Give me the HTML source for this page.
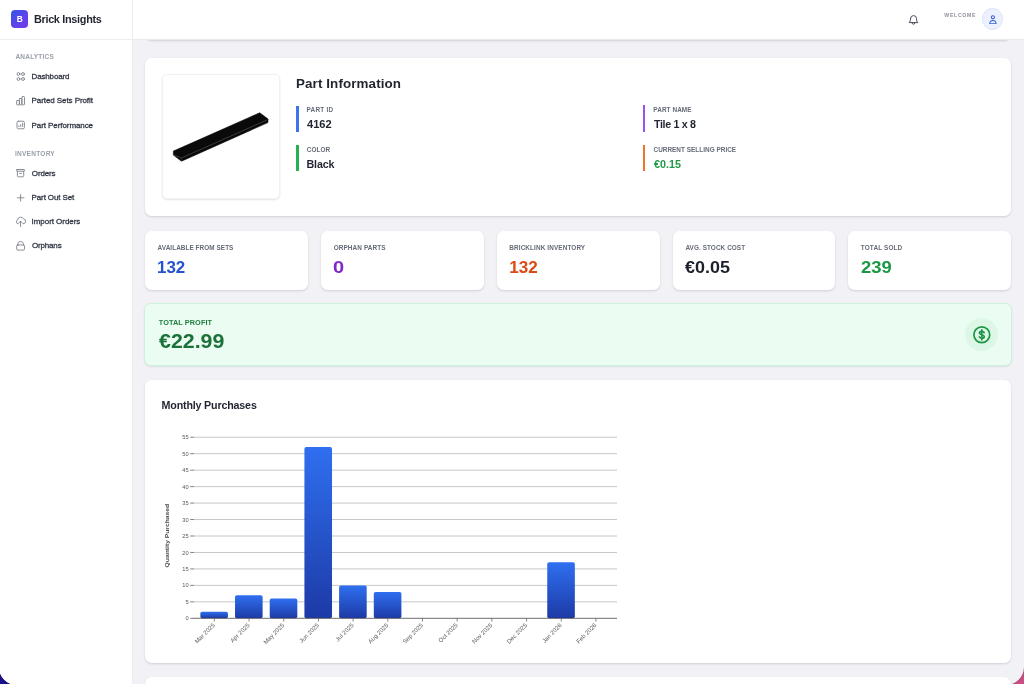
<!DOCTYPE html>
<html lang="en">
<head>
<meta charset="utf-8">
<title>Brick Insights - Part Performance</title>
<style>
*{box-sizing:border-box;margin:0;padding:0}
html,body{width:1024px;height:684px;overflow:hidden}
body{font-family:"Liberation Sans",sans-serif;background:linear-gradient(90deg,#1c1088 0%,#6a2a9a 50%,#cd4d84 100%);color:#1f2430;position:relative}
#win{will-change:transform;position:absolute;left:-1.1px;top:0;width:1025.1px;height:684.5px;background:#f2f2f6;border-radius:0 0 18px 18px;overflow:hidden;box-shadow:0 0 1.5px rgba(0,0,10,.5)}
#in{position:absolute;left:1.1px;top:0;width:1024px;height:684.5px}
.t{position:absolute;white-space:nowrap;transform-origin:0 50%}
#side{position:absolute;left:0;top:0;width:132.5px;height:684px;background:#fff;border-right:1px solid #ececf1}
#brand{position:absolute;left:0;top:0;width:132px;height:39.5px;border-bottom:1px solid #efeff3}
#logo{position:absolute;left:11px;top:10.4px;width:17px;height:17.5px;border-radius:4px;background:linear-gradient(135deg,#3654e6 0%,#7a36ec 100%)}
.logob{font-size:8.4px;line-height:10px;font-weight:700;color:#fff}
.bname{font-size:10.9px;line-height:14px;font-weight:700;color:#1f2430}
.sec{font-size:6.5px;line-height:8px;font-weight:700;color:#9a9fab}
.nav{font-size:8px;line-height:10px;color:#2f3542;-webkit-text-stroke:.28px #2f3542}
.ico{position:absolute;fill:none;stroke:#767b88;stroke-width:1.9;stroke-linecap:round;stroke-linejoin:round}
#head{position:absolute;left:133px;top:0;width:891px;height:39.5px;background:#fff;border-bottom:1px solid #e9e9ee;z-index:5}
.welcome{font-size:5.2px;line-height:6px;font-weight:700;color:#8c909b}
#avatar{position:absolute;left:848.8px;top:8.3px;width:21.4px;height:21.8px;border-radius:50%;background:#ecf1fd;border:1px solid #dde5fb}
.card{position:absolute;background:#fff;border-radius:6.5px;box-shadow:0 1px 2px rgba(20,20,50,.1),0 1px 3px rgba(20,20,50,.06)}
.lbl{font-size:6.4px;line-height:8px;font-weight:700;color:#656b78}
.val{font-size:10.7px;line-height:14px;font-weight:700;color:#1f2430}
.pit{font-size:13.4px;line-height:18px;font-weight:700;color:#1f2430}
.bar{position:absolute;width:2.2px;height:26.4px}
.big{font-size:17.1px;line-height:20px;font-weight:700}
.tpl{font-size:7.3px;line-height:10px;font-weight:700;color:#1e7d3f}
.tpv{font-size:19.8px;line-height:24px;font-weight:700;color:#1b7238}
.ctitle{font-size:10.7px;line-height:14px;font-weight:700;color:#1f2430}
</style>
</head>
<body>
<div id="win"><div id="in">
<div class="card" style="left:145px;top:-20px;width:866px;height:60.3px"></div>
<div id="head">
<svg style="position:absolute;left:775px;top:13.8px;width:11px;height:12px" viewBox="0 0 22 24" fill="none" stroke="#3d4350" stroke-width="1.9" stroke-linecap="round" stroke-linejoin="round"><path d="M5 9.2a6 6 0 0 1 12 0c0 4.8 1.3 6.5 2.7 8h-17.4C3.7 15.7 5 14 5 9.2z"/><path d="M8.3 18.5a2.8 2.8 0 0 0 5.4 0"/></svg>
<div id="welcome" class="t welcome" style="left:811.24px;top:11.71px;letter-spacing:0.68px;">WELCOME</div>
<div id="avatar"><svg style="position:absolute;left:5.9px;top:5.4px;width:7.8px;height:9.6px" viewBox="0 0 16 20" fill="none" stroke="#3561dd" stroke-width="2.2" stroke-linecap="round" stroke-linejoin="round"><circle cx="8" cy="4.8" r="3.3"/><path d="M1.5 18.5c0-4.5 2.6-7 6.5-7s6.5 2.5 6.5 7z"/></svg></div>
</div>
<div id="side">
<div id="brand"><div id="logo"></div><div id="logob" class="t logob" style="left:16.6px;top:14.2px;letter-spacing:0px;">B</div><div id="bname" class="t bname" style="left:33.89px;top:12.2px;letter-spacing:-0.32px;">Brick Insights</div></div>
<div id="secA" class="t sec" style="left:15.38px;top:53.1px;letter-spacing:0.21px;">ANALYTICS</div>
<div id="secI" class="t sec" style="left:14.89px;top:150.49px;letter-spacing:0.27px;">INVENTORY</div>
<svg class="ico" style="left:14px;top:70px;width:13px;height:13px;stroke-width:.85" viewBox="14 70 13 13"><circle cx="18.5" cy="74" r="1.45"/><circle cx="23" cy="74" r="1.45"/><circle cx="18.5" cy="79" r="1.45"/><circle cx="23" cy="79" r="1.45"/></svg>
<div id="n1" class="t nav" style="left:31.48px;top:71.73px;letter-spacing:-0.16px;">Dashboard</div>
<svg class="ico" style="left:14px;top:94px;width:13px;height:13px;stroke-width:.85" viewBox="14 94 13 13"><rect x="16.6" y="100.5" width="2.8" height="4.4" rx=".7"/><rect x="19.4" y="98.5" width="2.5" height="6.4" rx=".7"/><rect x="21.9" y="96.6" width="2.6" height="8.3" rx=".8"/></svg>
<div id="n2" class="t nav" style="left:31.49px;top:96.17px;letter-spacing:-0.08px;">Parted Sets Profit</div>
<svg class="ico" style="left:14px;top:119px;width:13px;height:13px;stroke-width:.85" viewBox="14 119 13 13"><rect x="17" y="121.2" width="7.4" height="7.6" rx="1.4"/><path d="M18.8 126.5v-.6M20.7 126.5v-1.8M22.6 126.5v-3.2"/></svg>
<div id="n3" class="t nav" style="left:31.49px;top:120.77px;letter-spacing:-0.08px;">Part Performance</div>
<svg class="ico" style="left:14px;top:167px;width:13px;height:13px;stroke-width:.85" viewBox="14 167 13 13"><rect x="16.6" y="169.5" width="7.9" height="1.7" rx=".5"/><path d="M17.4 171.3v4.5a1 1 0 0 0 1 1h4.3a1 1 0 0 0 1-1v-4.5M19.6 173.4h1.9"/></svg>
<div id="n4" class="t nav" style="left:31.72px;top:168.57px;letter-spacing:-0.15px;">Orders</div>
<svg class="ico" style="left:14px;top:191px;width:13px;height:13px;stroke-width:.85" viewBox="14 191 13 13"><path d="M20.6 194.5v6.6M17.3 197.8h6.6"/></svg>
<div id="n5" class="t nav" style="left:31.51px;top:192.77px;letter-spacing:-0.13px;">Part Out Set</div>
<svg class="ico" style="left:14px;top:214.5px;width:13px;height:13px;stroke-width:.85" viewBox="14 214.5 13 13"><path d="M18.3 223.3a2 2 0 0 1-.6-3.9 3.1 3.1 0 0 1 5.9-.9 2.4 2.4 0 0 1-.8 4.8"/><path d="M20.5 226v-5.2M19 222.1l1.5-1.5 1.5 1.5"/></svg>
<div id="n6" class="t nav" style="left:31.41px;top:216.99px;letter-spacing:-0.04px;">Import Orders</div>
<svg class="ico" style="left:14px;top:239px;width:13px;height:13px;stroke-width:.85" viewBox="14 239 13 13"><rect x="16.7" y="245" width="7.8" height="5.1" rx="1.2"/><path d="M17.3 245.3l1.2-3a1 1 0 0 1 .9-.6h2.4a1 1 0 0 1 .9.6l1.2 3"/></svg>
<div id="n7" class="t nav" style="left:31.79px;top:241.17px;letter-spacing:-0.15px;">Orphans</div>
</div>
<div class="card" style="left:145px;top:58px;width:866px;height:158.2px">
<div style="position:absolute;left:17.2px;top:16px;width:117.5px;height:125px;border-radius:5px;background:#fff;border:1px solid #f1f1f5;box-shadow:0 1px 2px rgba(20,20,50,.11)">
<svg style="position:absolute;left:-1px;top:-.5px" width="118" height="125" viewBox="0 0 118 125"><path d="M11.4 76.1 L97.7 37.8 L106.1 44 L105.9 47.6 L19.5 86.2 L11.4 80.1Z" fill="#0a0a0b" stroke="#0a0a0b" stroke-width=".6" stroke-linejoin="round"/><path d="M12 80 L19.4 83 L105.6 44.7" fill="none" stroke="#5a5a5d" stroke-width=".6"/><path d="M19.4 83V86" stroke="#48484a" stroke-width=".5"/></svg>
</div>
<div id="pit" class="t pit" style="left:150.88px;top:16.5px;letter-spacing:0.11px;">Part Information</div>
<div class="bar" style="left:151.3px;top:47.5px;background:#3b73f0"></div>
<div id="l_pid" class="t lbl" style="left:161.41px;top:47.84px;letter-spacing:0.26px;">PART ID</div>
<div id="v_pid" class="t val" style="left:162.21px;top:58.77px;letter-spacing:0px;transform:scaleX(1.04);">4162</div>
<div class="bar" style="left:151.3px;top:87px;background:#27b052"></div>
<div id="l_col" class="t lbl" style="left:161.74px;top:88.05px;letter-spacing:0.06px;">COLOR</div>
<div id="v_col" class="t val" style="left:161.4px;top:98.8px;letter-spacing:-0.12px;">Black</div>
<div class="bar" style="left:498px;top:47.4px;background:#9b51f0"></div>
<div id="l_pn" class="t lbl" style="left:508.22px;top:47.99px;letter-spacing:0.09px;">PART NAME</div>
<div id="v_pn" class="t val" style="left:508.85px;top:59.4px;letter-spacing:-0.32px;">Tile 1 x 8</div>
<div class="bar" style="left:498px;top:87px;background:#ee7429"></div>
<div id="l_csp" class="t lbl" style="left:508.4px;top:87.94px;letter-spacing:0.03px;">CURRENT SELLING PRICE</div>
<div id="v_csp" class="t val" style="left:508.6px;top:98.8px;letter-spacing:0px;transform:scaleX(1.01);color:#1e9a48;">€0.15</div>
</div>
<div class="card" style="left:145px;top:230.8px;width:163px;height:59px"><div id="l_s1" class="t lbl" style="left:12.53px;top:12.8px;letter-spacing:0.06px;">AVAILABLE FROM SETS</div><div id="v_s1" class="t big" style="left:11.99px;top:27.4px;letter-spacing:0px;transform:scaleX(0.99);color:#2452d1;">132</div></div>
<div class="card" style="left:321px;top:230.8px;width:162.5px;height:59px"><div id="l_s2" class="t lbl" style="left:12.55px;top:13.42px;letter-spacing:0.11px;">ORPHAN PARTS</div><div id="v_s2" class="t big" style="left:12.17px;top:27.4px;letter-spacing:0px;transform:scaleX(1.17);color:#7e28cf;">0</div></div>
<div class="card" style="left:497px;top:230.8px;width:162.5px;height:59px"><div id="l_s3" class="t lbl" style="left:12.21px;top:13.47px;letter-spacing:0.11px;">BRICKLINK INVENTORY</div><div id="v_s3" class="t big" style="left:12.2px;top:27.4px;letter-spacing:0px;transform:scaleX(1);color:#dc4a14;">132</div></div>
<div class="card" style="left:672.8px;top:230.8px;width:162.5px;height:59px"><div id="l_s4" class="t lbl" style="left:12.53px;top:13.39px;letter-spacing:0.07px;">AVG. STOCK COST</div><div id="v_s4" class="t big" style="left:12.23px;top:27.4px;letter-spacing:0px;transform:scaleX(1.05);color:#1b202c;">€0.05</div></div>
<div class="card" style="left:848.3px;top:230.8px;width:162.7px;height:59px"><div id="l_s5" class="t lbl" style="left:12.38px;top:12.82px;letter-spacing:0.15px;">TOTAL SOLD</div><div id="v_s5" class="t big" style="left:12.6px;top:27.34px;letter-spacing:0px;transform:scaleX(1.08);color:#1b9845;">239</div></div>
<div class="card" style="left:144.2px;top:303.3px;width:867.6px;height:62.9px;border-radius:6.5px;background:#ebfcf2;border:1px solid #cdf1db;box-shadow:0 1px 2px rgba(20,60,40,.1)">
<div id="l_tp" class="t tpl" style="left:13.45px;top:13.6px;letter-spacing:0.09px;">TOTAL PROFIT</div>
<div id="v_tp" class="t tpv" style="left:13.75px;top:25.14px;letter-spacing:0px;transform:scaleX(1.08);">€22.99</div>
<div style="position:absolute;left:819.7px;top:13.5px;width:33px;height:33px;border-radius:50%;background:#dcf7e6"></div>
<svg style="position:absolute;left:826.5px;top:20.4px;width:19.6px;height:19.6px" viewBox="0 0 24 24" fill="none" stroke="#1f9447" stroke-width="2.1" stroke-linecap="round" stroke-linejoin="round"><circle cx="12" cy="12" r="9.7"/><path d="M14.9 9.2c-.5-1-1.5-1.5-2.9-1.5-1.7 0-2.9.8-2.9 2.1 0 3 5.9 1.3 5.9 4.3 0 1.3-1.3 2.1-3 2.1-1.4 0-2.5-.6-3-1.6M12 5.8v12.4"/></svg>
</div>
<div class="card" id="chart" style="left:145px;top:380px;width:866px;height:283.1px">
<div id="ctitle" class="t ctitle" style="left:16.46px;top:18.2px;letter-spacing:-0.17px;">Monthly Purchases</div>
<!-- CHARTSVG -->
<svg style="position:absolute;left:0;top:0" width="866" height="283" viewBox="145 380 866 283" font-family="'Liberation Sans',sans-serif">
<defs><linearGradient id="bg" x1="0" y1="0" x2="0" y2="1"><stop offset="0" stop-color="#2f6ff0"/><stop offset="1" stop-color="#1d3aa6"/></linearGradient></defs>
<path d="M190.2 618.3H194" stroke="#666" stroke-width=".8"/>
<text x="188.7" y="620.35" text-anchor="end" font-size="5.7" fill="#585858">0</text>
<path d="M193.6 601.84H617" stroke="#c0c0c0" stroke-width=".9"/>
<path d="M190.2 601.84H194" stroke="#666" stroke-width=".8"/>
<text x="188.7" y="603.89" text-anchor="end" font-size="5.7" fill="#585858">5</text>
<path d="M193.6 585.38H617" stroke="#c0c0c0" stroke-width=".9"/>
<path d="M190.2 585.38H194" stroke="#666" stroke-width=".8"/>
<text x="188.7" y="587.43" text-anchor="end" font-size="5.7" fill="#585858">10</text>
<path d="M193.6 568.92H617" stroke="#c0c0c0" stroke-width=".9"/>
<path d="M190.2 568.92H194" stroke="#666" stroke-width=".8"/>
<text x="188.7" y="570.97" text-anchor="end" font-size="5.7" fill="#585858">15</text>
<path d="M193.6 552.46H617" stroke="#c0c0c0" stroke-width=".9"/>
<path d="M190.2 552.46H194" stroke="#666" stroke-width=".8"/>
<text x="188.7" y="554.51" text-anchor="end" font-size="5.7" fill="#585858">20</text>
<path d="M193.6 536H617" stroke="#c0c0c0" stroke-width=".9"/>
<path d="M190.2 536H194" stroke="#666" stroke-width=".8"/>
<text x="188.7" y="538.05" text-anchor="end" font-size="5.7" fill="#585858">25</text>
<path d="M193.6 519.54H617" stroke="#c0c0c0" stroke-width=".9"/>
<path d="M190.2 519.54H194" stroke="#666" stroke-width=".8"/>
<text x="188.7" y="521.59" text-anchor="end" font-size="5.7" fill="#585858">30</text>
<path d="M193.6 503.08H617" stroke="#c0c0c0" stroke-width=".9"/>
<path d="M190.2 503.08H194" stroke="#666" stroke-width=".8"/>
<text x="188.7" y="505.13" text-anchor="end" font-size="5.7" fill="#585858">35</text>
<path d="M193.6 486.62H617" stroke="#c0c0c0" stroke-width=".9"/>
<path d="M190.2 486.62H194" stroke="#666" stroke-width=".8"/>
<text x="188.7" y="488.67" text-anchor="end" font-size="5.7" fill="#585858">40</text>
<path d="M193.6 470.16H617" stroke="#c0c0c0" stroke-width=".9"/>
<path d="M190.2 470.16H194" stroke="#666" stroke-width=".8"/>
<text x="188.7" y="472.21" text-anchor="end" font-size="5.7" fill="#585858">45</text>
<path d="M193.6 453.7H617" stroke="#c0c0c0" stroke-width=".9"/>
<path d="M190.2 453.7H194" stroke="#666" stroke-width=".8"/>
<text x="188.7" y="455.75" text-anchor="end" font-size="5.7" fill="#585858">50</text>
<path d="M193.6 437.24H617" stroke="#c0c0c0" stroke-width=".9"/>
<path d="M190.2 437.24H194" stroke="#666" stroke-width=".8"/>
<text x="188.7" y="439.29" text-anchor="end" font-size="5.7" fill="#585858">55</text>
<rect x="200.34" y="611.72" width="27.6" height="6.58" rx="1.8" fill="url(#bg)"/>
<rect x="235.03" y="595.26" width="27.6" height="23.04" rx="1.8" fill="url(#bg)"/>
<rect x="269.72" y="598.55" width="27.6" height="19.75" rx="1.8" fill="url(#bg)"/>
<rect x="304.42" y="447.12" width="27.6" height="171.18" rx="1.8" fill="url(#bg)"/>
<rect x="339.1" y="585.38" width="27.6" height="32.92" rx="1.8" fill="url(#bg)"/>
<rect x="373.8" y="591.96" width="27.6" height="26.34" rx="1.8" fill="url(#bg)"/>
<rect x="547.25" y="562.34" width="27.6" height="55.96" rx="1.8" fill="url(#bg)"/>
<path d="M193.6 618.3H617" stroke="#3c3c3c" stroke-width=".75"/>
<path d="M214.34 618.3V621.5" stroke="#666" stroke-width=".8"/>
<text transform="translate(215.34 625.7) rotate(-45)" text-anchor="end" font-size="6.05" fill="#5c5c5c">Mar 2025</text>
<path d="M249.03 618.3V621.5" stroke="#666" stroke-width=".8"/>
<text transform="translate(250.03 625.7) rotate(-45)" text-anchor="end" font-size="6.05" fill="#5c5c5c">Apr 2025</text>
<path d="M283.72 618.3V621.5" stroke="#666" stroke-width=".8"/>
<text transform="translate(284.72 625.7) rotate(-45)" text-anchor="end" font-size="6.05" fill="#5c5c5c">May 2025</text>
<path d="M318.42 618.3V621.5" stroke="#666" stroke-width=".8"/>
<text transform="translate(319.42 625.7) rotate(-45)" text-anchor="end" font-size="6.05" fill="#5c5c5c">Jun 2025</text>
<path d="M353.1 618.3V621.5" stroke="#666" stroke-width=".8"/>
<text transform="translate(354.1 625.7) rotate(-45)" text-anchor="end" font-size="6.05" fill="#5c5c5c">Jul 2025</text>
<path d="M387.8 618.3V621.5" stroke="#666" stroke-width=".8"/>
<text transform="translate(388.8 625.7) rotate(-45)" text-anchor="end" font-size="6.05" fill="#5c5c5c">Aug 2025</text>
<path d="M422.48 618.3V621.5" stroke="#666" stroke-width=".8"/>
<text transform="translate(423.48 625.7) rotate(-45)" text-anchor="end" font-size="6.05" fill="#5c5c5c">Sep 2025</text>
<path d="M457.17 618.3V621.5" stroke="#666" stroke-width=".8"/>
<text transform="translate(458.17 625.7) rotate(-45)" text-anchor="end" font-size="6.05" fill="#5c5c5c">Oct 2025</text>
<path d="M491.87 618.3V621.5" stroke="#666" stroke-width=".8"/>
<text transform="translate(492.87 625.7) rotate(-45)" text-anchor="end" font-size="6.05" fill="#5c5c5c">Nov 2025</text>
<path d="M526.56 618.3V621.5" stroke="#666" stroke-width=".8"/>
<text transform="translate(527.56 625.7) rotate(-45)" text-anchor="end" font-size="6.05" fill="#5c5c5c">Dec 2025</text>
<path d="M561.25 618.3V621.5" stroke="#666" stroke-width=".8"/>
<text transform="translate(562.25 625.7) rotate(-45)" text-anchor="end" font-size="6.05" fill="#5c5c5c">Jan 2026</text>
<path d="M595.93 618.3V621.5" stroke="#666" stroke-width=".8"/>
<text transform="translate(596.93 625.7) rotate(-45)" text-anchor="end" font-size="6.05" fill="#5c5c5c">Feb 2026</text>
<text transform="translate(169.4 535.6) rotate(-90)" text-anchor="middle" font-size="6.1" font-weight="700" fill="#4e4e4e" textLength="63.6" lengthAdjust="spacingAndGlyphs">Quantity Purchased</text>
</svg>
</div>
<div class="card" style="left:145px;top:677.3px;width:866px;height:60px"></div>
</div></div>
</body>
</html>
